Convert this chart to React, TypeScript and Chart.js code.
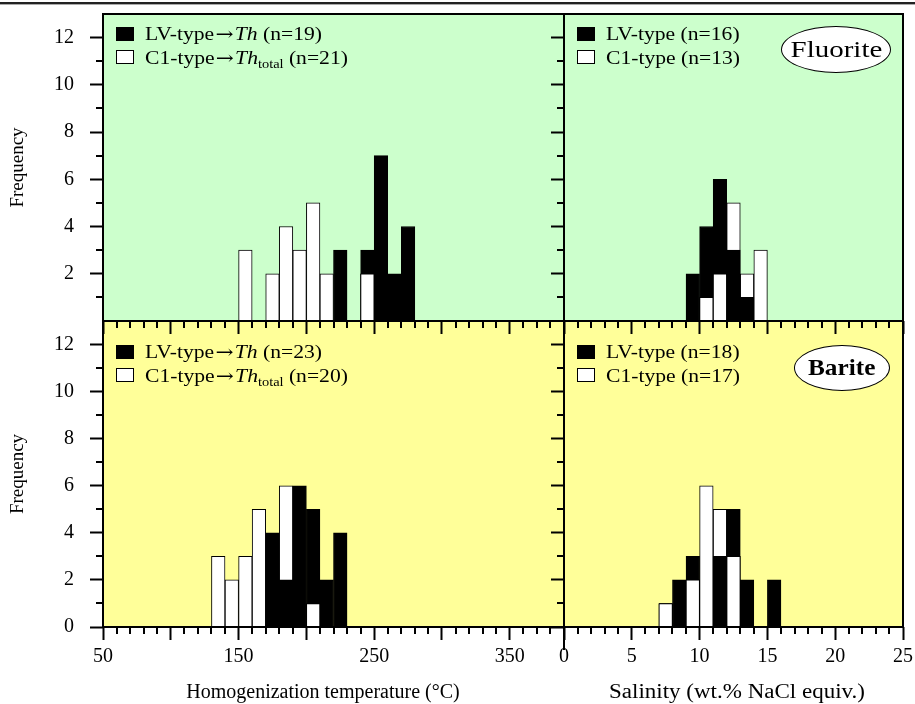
import React, { useEffect, useRef } from 'react';
import { Chart, registerables } from 'chart.js';

Chart.register(...registerables);

const W = 915;
const H = 704;
const SERIF = '"Liberation Serif", "Times New Roman", serif';

// ---- Data (bin centres and counts) ----
const fluoriteThBins = [155, 165, 175, 185, 195, 205, 215, 225, 235, 245, 255, 265, 275];
const fluoriteThLV = [0, 0, 0, 0, 0, 0, 0, 3, 0, 3, 7, 2, 4];
const fluoriteThC1 = [3, 0, 2, 4, 3, 5, 2, 0, 0, 2, 0, 0, 0];

const fluoriteSalBins = [9.5, 10.5, 11.5, 12.5, 13.5, 14.5];
const fluoriteSalLV = [2, 4, 6, 3, 1, 0];
const fluoriteSalC1 = [0, 1, 2, 5, 2, 3];

const bariteThBins = [135, 145, 155, 165, 175, 185, 195, 205, 215, 225];
const bariteThLV = [0, 0, 0, 0, 4, 2, 6, 5, 2, 4];
const bariteThC1 = [3, 2, 3, 5, 0, 6, 0, 1, 0, 0];

const bariteSalBins = [7.5, 8.5, 9.5, 10.5, 11.5, 12.5, 13.5, 14.5, 15.5];
const bariteSalLV = [1, 2, 3, 0, 3, 5, 2, 0, 2];
const bariteSalC1 = [1, 0, 2, 6, 5, 3, 0, 0, 0];

// ---- Tick labels ----
const tempMajorTicks = [50, 100, 150, 200, 250, 300, 350];
const tempLabelTicks = [50, 150, 250, 350];
const salMajorTicks = [0, 5, 10, 15, 20, 25];
const salLabelTicks = [0, 5, 10, 15, 20, 25];
const freqTopTicks = [2, 4, 6, 8, 10, 12];
const freqBottomTicks = [0, 2, 4, 6, 8, 10, 12];
const freqMinorTicks = [1, 3, 5, 7, 9, 11];

function minorList(min: number, max: number, step: number, majorStep: number) {
  const out: number[] = [];
  for (let v = min + step; v < max - 1e-9; v += step) {
    const r = Math.round(v * 1000) / 1000;
    if (Math.abs(r / majorStep - Math.round(r / majorStep)) > 1e-6) out.push(r);
  }
  return out;
}
const tempMinorTicks = minorList(50, 390, 10, 50);
const salMinorTicks = minorList(0, 25, 1, 5);

type Area = { left: number; top: number; right: number; bottom: number };
type Panel = {
  bins: number[];
  lv: number[];
  c1: number[];
  xMin: number;
  xMax: number;
  xMajor: number[];
  xLabels: number[] | null;
  xMinor: number[];
  yMajor: number[];
  yLabels: boolean;
  yTitle: string | null;
  bg: string;
  area: Area;
  longFirstTick?: number;
};

const GREEN = '#ccffcc';
const YELLOW = '#ffff99';

const panels: Panel[] = [
  {
    bins: bariteThBins, lv: bariteThLV, c1: bariteThC1,
    xMin: 50, xMax: 390, xMajor: tempMajorTicks, xLabels: tempLabelTicks, xMinor: tempMinorTicks,
    yMajor: freqBottomTicks, yLabels: true, yTitle: 'Frequency',
    bg: YELLOW, area: { left: 103, top: 321, right: 564, bottom: 627 },
  },
  {
    bins: bariteSalBins, lv: bariteSalLV, c1: bariteSalC1,
    xMin: 0, xMax: 25, xMajor: salMajorTicks, xLabels: salLabelTicks, xMinor: salMinorTicks,
    yMajor: freqBottomTicks, yLabels: false, yTitle: null,
    bg: YELLOW, area: { left: 564, top: 321, right: 903, bottom: 627 }, longFirstTick: 23,
  },
  {
    bins: fluoriteThBins, lv: fluoriteThLV, c1: fluoriteThC1,
    xMin: 50, xMax: 390, xMajor: tempMajorTicks, xLabels: null, xMinor: tempMinorTicks,
    yMajor: freqTopTicks, yLabels: true, yTitle: 'Frequency',
    bg: GREEN, area: { left: 103, top: 14, right: 564, bottom: 321 },
  },
  {
    bins: fluoriteSalBins, lv: fluoriteSalLV, c1: fluoriteSalC1,
    xMin: 0, xMax: 25, xMajor: salMajorTicks, xLabels: null, xMinor: salMinorTicks,
    yMajor: freqTopTicks, yLabels: false, yTitle: null,
    bg: GREEN, area: { left: 564, top: 14, right: 903, bottom: 321 },
  },
];

const MAJOR_LEN = 13;
const MINOR_LEN = 7;

function makePlugin(p: Panel) {
  return {
    id: 'panelDecor',
    beforeDraw(chart: any) {
      const { ctx, chartArea: a } = chart;
      ctx.save();
      ctx.fillStyle = p.bg;
      ctx.fillRect(a.left, a.top, a.right - a.left, a.bottom - a.top);
      ctx.restore();
    },
    afterDatasetsDraw(chart: any) {
      // the smaller of the two overlapping bars sits in front
      const m1 = chart.getDatasetMeta(1);
      const d0 = chart.data.datasets[0].data;
      const d1 = chart.data.datasets[1].data;
      for (let i = 0; i < d1.length; i++) {
        const a = d0[i].y;
        const b = d1[i].y;
        if (a != null && b != null && b <= a) m1.data[i].draw(chart.ctx);
      }
    },
    afterDraw(chart: any) {
      const { ctx, chartArea: a, scales } = chart;
      ctx.save();
      ctx.strokeStyle = '#000';
      ctx.lineWidth = 2;
      ctx.beginPath();
      for (const v of p.xMinor) {
        const x = Math.round(scales.x.getPixelForValue(v));
        ctx.moveTo(x, a.bottom);
        ctx.lineTo(x, a.bottom + MINOR_LEN);
      }
      for (const v of freqMinorTicks) {
        const y = Math.round(scales.y.getPixelForValue(v));
        ctx.moveTo(a.left - MINOR_LEN, y);
        ctx.lineTo(a.left, y);
      }
      if (p.longFirstTick) {
        const x = Math.round(scales.x.getPixelForValue(p.xMin));
        ctx.moveTo(x, a.bottom);
        ctx.lineTo(x, a.bottom + p.longFirstTick);
      }
      ctx.stroke();
      ctx.strokeRect(a.left, a.top, a.right - a.left, a.bottom - a.top);
      ctx.restore();
    },
  };
}

function buildConfig(p: Panel): any {
  const ds = (label: string, vals: number[], color: string) => ({
    label,
    data: p.bins.map((b, i) => ({ x: b, y: vals[i] > 0 ? vals[i] : null })),
    backgroundColor: color,
    borderColor: '#000',
    borderWidth: 1,
    grouped: false,
    categoryPercentage: 1,
    barPercentage: 1,
  });
  const tickFont = { family: SERIF, size: 20 };
  return {
    type: 'bar',
    data: {
      datasets: [ds('LV-type', p.lv, '#000000'), ds('C1-type', p.c1, '#ffffff')],
    },
    options: {
      responsive: false,
      animation: false,
      events: [],
      layout: { padding: { left: 0, top: p.area.top, right: W - p.area.right, bottom: 0 } },
      plugins: { legend: { display: false }, tooltip: { enabled: false } },
      scales: {
        x: {
          type: 'linear',
          min: p.xMin,
          max: p.xMax,
          offset: false,
          afterBuildTicks: (s: any) => {
            s.ticks = p.xMajor.map((v) => ({ value: v }));
          },
          afterFit: (s: any) => {
            s.height = H - p.area.bottom;
            s.paddingLeft = 0;
            s.paddingRight = 0;
            s.paddingTop = 0;
            s.paddingBottom = 0;
          },
          grid: {
            offset: false,
            drawOnChartArea: false,
            drawTicks: true,
            tickLength: MAJOR_LEN,
            tickColor: '#000',
            tickWidth: 2,
          },
          border: { display: false },
          ticks: {
            display: !!p.xLabels,
            autoSkip: false,
            maxRotation: 0,
            color: '#000',
            font: tickFont,
            padding: 5,
            callback: (v: any) => (p.xLabels && p.xLabels.includes(v) ? String(v) : ''),
          },
        },
        y: {
          type: 'linear',
          min: 0,
          max: 13,
          afterBuildTicks: (s: any) => {
            s.ticks = p.yMajor.map((v) => ({ value: v }));
          },
          afterFit: (s: any) => {
            s.width = p.area.left;
            s.paddingLeft = 0;
            s.paddingRight = 0;
            s.paddingTop = 0;
            s.paddingBottom = 0;
          },
          grid: {
            drawOnChartArea: false,
            drawTicks: true,
            tickLength: MAJOR_LEN,
            tickColor: '#000',
            tickWidth: 2,
          },
          border: { display: false },
          ticks: {
            display: p.yLabels,
            autoSkip: false,
            color: '#000',
            font: tickFont,
            padding: 16,
            callback: (v: any) => String(v),
          },
          title: {
            display: !!p.yTitle,
            text: p.yTitle || '',
            color: '#000',
            font: { family: SERIF, size: 19 },
            padding: { top: 7, bottom: 0 },
          },
        },
      },
    },
    plugins: [makePlugin(p)],
  };
}

function PanelChart({ panel, z }: { panel: Panel; z: number }) {
  const ref = useRef<HTMLCanvasElement>(null);
  useEffect(() => {
    const chart = new Chart(ref.current as HTMLCanvasElement, buildConfig(panel));
    return () => chart.destroy();
  }, [panel]);
  return (
    <canvas
      ref={ref}
      width={W}
      height={H}
      style={{ position: 'absolute', left: 0, top: 0, width: W, height: H, zIndex: z }}
    />
  );
}

const textStyle: React.CSSProperties = {
  position: 'absolute',
  fontFamily: SERIF,
  fontSize: 18,
  lineHeight: '18px',
  whiteSpace: 'nowrap',
  color: '#000',
  transform: 'scaleX(1.2)',
  transformOrigin: '0 0',
};

const arrowStyle: React.CSSProperties = {
  fontFamily: '"DejaVu Serif", serif',
  fontSize: 18,
  margin: '0 1px',
};

function Square({ left, top, filled }: { left: number; top: number; filled: boolean }) {
  return (
    <div
      style={{
        position: 'absolute',
        left,
        top,
        width: 18,
        height: 14,
        boxSizing: 'border-box',
        background: filled ? '#000' : '#fff',
        border: '1.5px solid #000',
      }}
    />
  );
}

function Legend({ left, top, lvText, c1Text }: { left: number; top: number; lvText: React.ReactNode; c1Text: React.ReactNode }) {
  return (
    <>
      <Square left={left} top={top + 1} filled />
      <Square left={left} top={top + 24} filled={false} />
      <div style={{ ...textStyle, left: left + 29, top: top - 1 }}>{lvText}</div>
      <div style={{ ...textStyle, left: left + 29, top: top + 23 }}>{c1Text}</div>
    </>
  );
}

function Oval({ left, top, width, height, text, bold, sx }: { left: number; top: number; width: number; height: number; text: string; bold?: boolean; sx: number }) {
  return (
    <div
      style={{
        position: 'absolute',
        left,
        top,
        width,
        height,
        boxSizing: 'border-box',
        border: '1.5px solid #000',
        borderRadius: '50%',
        background: '#fff',
        display: 'flex',
        alignItems: 'center',
        justifyContent: 'center',
      }}
    >
      <span
        style={{
          fontFamily: SERIF,
          fontSize: 23,
          fontWeight: bold ? 700 : 400,
          color: '#000',
          display: 'inline-block',
          transform: `scaleX(${sx})`,
          whiteSpace: 'nowrap',
        }}
      >
        {text}
      </span>
    </div>
  );
}

function AxisTitle({ cx, cy, text, sx }: { cx: number; cy: number; text: string; sx: number }) {
  return (
    <div
      style={{
        position: 'absolute',
        left: cx - 300,
        top: cy - 12,
        width: 600,
        height: 24,
        lineHeight: '24px',
        textAlign: 'center',
        fontFamily: SERIF,
        fontSize: 20,
        color: '#000',
        whiteSpace: 'nowrap',
        transform: `scaleX(${sx})`,
      }}
    >
      {text}
    </div>
  );
}

const sub: React.CSSProperties = { fontSize: 12, verticalAlign: '-4px' };

export default function App() {
  return (
    <div style={{ position: 'absolute', left: 0, top: 0, width: W, height: H, background: '#fff', overflow: 'hidden' }}>
      <div style={{ position: 'absolute', left: 0, top: 2, width: W, height: 2, background: '#222' }} />
      <div style={{ position: 'absolute', left: 0, top: 4, width: W, height: 1, background: '#aaa' }} />
      {panels.map((p, i) => (
        <PanelChart key={i} panel={p} z={i + 1} />
      ))}
      <div style={{ position: 'absolute', left: 0, top: 0, width: W, height: H, zIndex: 10 }}>
        <Legend
          left={116}
          top={26}
          lvText={<>LV-type<span style={arrowStyle}>→</span><i>Th</i> (n=19)</>}
          c1Text={<>C1-type<span style={arrowStyle}>→</span><i>Th</i><span style={sub}>total</span> (n=21)</>}
        />
        <Legend left={577} top={26} lvText={<>LV-type (n=16)</>} c1Text={<>C1-type (n=13)</>} />
        <Legend
          left={116}
          top={344}
          lvText={<>LV-type<span style={arrowStyle}>→</span><i>Th</i> (n=23)</>}
          c1Text={<>C1-type<span style={arrowStyle}>→</span><i>Th</i><span style={sub}>total</span> (n=20)</>}
        />
        <Legend left={577} top={344} lvText={<>LV-type (n=18)</>} c1Text={<>C1-type (n=17)</>} />
        <Oval left={781} top={26} width={110} height={47} text="Fluorite" sx={1.26} />
        <Oval left={794} top={345} width={96} height={46} text="Barite" bold sx={1.1} />
        <AxisTitle cx={323} cy={691} text="Homogenization temperature (°C)" sx={1.0} />
        <AxisTitle cx={737} cy={691} text="Salinity (wt.% NaCl equiv.)" sx={1.15} />
      </div>
    </div>
  );
}
